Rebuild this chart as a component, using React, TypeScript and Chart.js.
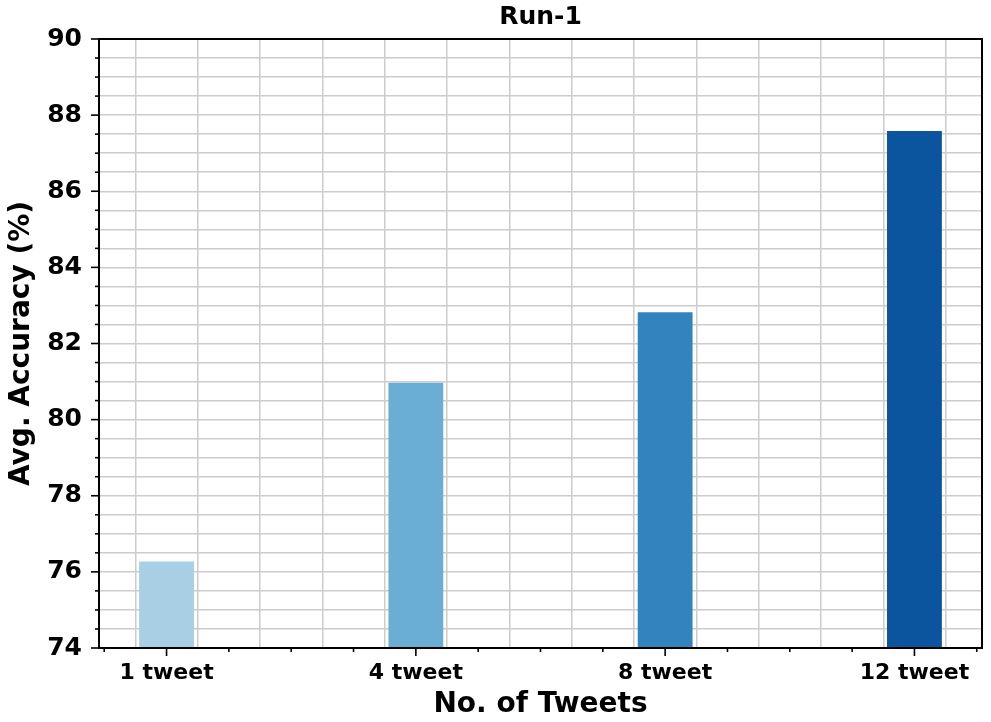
import React, { useEffect, useRef } from "react";
import { Chart, registerables } from "chart.js";

Chart.register(...registerables);

const categories = ["1 tweet", "4 tweet", "8 tweet", "12 tweet"];
const accuracy = [76.27, 80.97, 82.82, 87.58];
const barColors = ["#a9cfe5", "#6aaed6", "#3383be", "#0b559f"];
const yMin = 74;
const yMax = 90;
const chartTitle = "Run-1";
const xTitle = "No. of Tweets";
const yTitle = "Avg. Accuracy (%)";

const FONT = "'DejaVu Sans', sans-serif";

const framePlugin = {
  id: "frameAndTicks",
  afterDraw(chart: any) {
    const { ctx, chartArea } = chart;
    const xs = chart.scales.x;
    const ys = chart.scales.y;
    ctx.save();
    ctx.strokeStyle = "#000";
    ctx.lineWidth = 1.6;
    xs.ticks.forEach((t: any, i: number) => {
      const px = xs.getPixelForTick(i);
      const major = Math.abs(t.value - Math.round(t.value)) < 1e-6;
      const len = major ? 8 : 4;
      ctx.beginPath();
      ctx.moveTo(px, chartArea.bottom);
      ctx.lineTo(px, chartArea.bottom + len);
      ctx.stroke();
    });
    ys.ticks.forEach((t: any, i: number) => {
      const py = ys.getPixelForTick(i);
      const major = Math.abs(t.value / 2 - Math.round(t.value / 2)) < 1e-6;
      const len = major ? 8 : 4;
      ctx.beginPath();
      ctx.moveTo(chartArea.left, py);
      ctx.lineTo(chartArea.left - len, py);
      ctx.stroke();
    });
    ctx.lineWidth = 2;
    ctx.strokeRect(
      chartArea.left,
      chartArea.top,
      chartArea.right - chartArea.left,
      chartArea.bottom - chartArea.top
    );
    ctx.restore();
  },
};

export default function App() {
  const ref = useRef<HTMLCanvasElement | null>(null);
  useEffect(() => {
    if (!ref.current) return;
    const chart = new Chart(ref.current, {
      type: "bar",
      data: {
        datasets: [
          {
            data: categories.map((_, i) => ({ x: i, y: accuracy[i] })),
            backgroundColor: barColors,
            borderColor: barColors,
            borderWidth: 0,
            // ruler interval is the 0.25 minor tick spacing; 0.88 * 0.25 = 0.22 category units
            barPercentage: 0.88,
            categoryPercentage: 1,
          },
        ],
      },
      options: {
        responsive: false,
        animation: false,
        layout: { padding: { left: 0, right: 9, top: 0, bottom: 0 } },
        plugins: {
          legend: { display: false },
          tooltip: { enabled: false },
          title: {
            display: true,
            fullSize: false,
            text: chartTitle,
            color: "#000",
            font: { family: FONT, size: 25, weight: "bold" },
            padding: { top: 2, bottom: 7 },
          },
        },
        scales: {
          x: {
            type: "linear",
            min: -0.271,
            max: 3.271,
            offset: false,
            afterFit(scale: any) {
              scale.height = 74;
            },
            ticks: {
              stepSize: 0.25,
              includeBounds: false,
              autoSkip: false,
              maxRotation: 0,
              padding: 12,
              color: "#000",
              font: { family: FONT, size: 22, weight: "bold" },
              callback: (v: any) => {
                const n = Number(v);
                const r = Math.round(n);
                return Math.abs(n - r) < 1e-6 && categories[r] ? categories[r] : "";
              },
            },
            grid: { color: "#cccccc", lineWidth: 1.5, drawTicks: false },
            border: { display: false },
            title: {
              display: true,
              text: xTitle,
              color: "#000",
              font: { family: FONT, size: 28, weight: "bold" },
              padding: { top: 0, bottom: 0 },
            },
          },
          y: {
            min: yMin,
            max: yMax,
            afterFit(scale: any) {
              scale.width = 99;
            },
            ticks: {
              stepSize: 0.5,
              autoSkip: false,
              padding: 17,
              color: "#000",
              font: { family: FONT, size: 25, weight: "bold" },
              callback: (v: any) => {
                const n = Number(v);
                return Math.abs(n / 2 - Math.round(n / 2)) < 1e-6 ? String(n) : "";
              },
            },
            grid: { color: "#cccccc", lineWidth: 1.5, drawTicks: false },
            border: { display: false },
            title: {
              display: true,
              text: yTitle,
              color: "#000",
              font: { family: FONT, size: 28, weight: "bold" },
              padding: { top: 5, bottom: 0 },
            },
          },
        },
      },
      plugins: [framePlugin],
    } as any);
    return () => chart.destroy();
  }, []);
  return (
    <canvas
      ref={ref}
      width={991}
      height={722}
      style={{ position: "absolute", left: 0, top: 0, display: "block", background: "#fff" }}
    />
  );
}
